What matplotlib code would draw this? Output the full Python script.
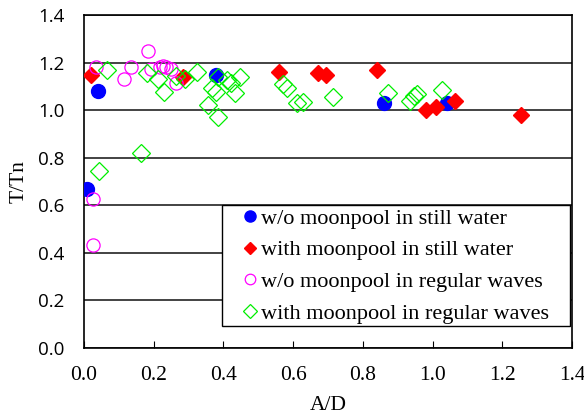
import matplotlib
matplotlib.use("Agg")
import matplotlib.pyplot as plt
from matplotlib.patches import Rectangle

# w/o moonpool, still water
still_wo_x = [0.01, 0.04, 0.38, 0.86, 1.04]
still_wo_y = [0.67, 1.08, 1.15, 1.03, 1.03]

# with moonpool, still water
still_with_x = [0.02, 0.285, 0.56, 0.67, 0.695, 0.84, 0.98, 1.01, 1.065, 1.255]
still_with_y = [1.15, 1.14, 1.16, 1.155, 1.148, 1.17, 1.00, 1.013, 1.04, 0.98]

# w/o moonpool, regular waves
waves_wo_x = [0.026, 0.026, 0.034, 0.115, 0.135, 0.183, 0.192, 0.217, 0.227,
              0.236, 0.25, 0.263]
waves_wo_y = [0.433, 0.627, 1.18, 1.13, 1.18, 1.248, 1.175, 1.18, 1.185,
              1.18, 1.175, 1.115]

# with moonpool, regular waves
waves_with_x = [0.042, 0.163, 0.065, 0.18, 0.211, 0.229, 0.265, 0.29, 0.323,
                0.357, 0.366, 0.38, 0.385, 0.385, 0.409, 0.422, 0.433, 0.448,
                0.572, 0.583, 0.61, 0.629, 0.713, 0.873, 0.935, 0.948, 0.955,
                1.026]
waves_with_y = [0.745, 0.821, 1.171, 1.157, 1.129, 1.077, 1.145, 1.13, 1.161,
                1.021, 1.092, 1.077, 1.14, 0.972, 1.127, 1.115, 1.071, 1.14,
                1.108, 1.092, 1.029, 1.035, 1.056, 1.071, 1.04, 1.06, 1.07,
                1.085]

serif = "Liberation Serif"

fig = plt.figure(figsize=(5.84, 4.18), dpi=100)
ax = fig.add_axes([0.1438, 0.1675, 0.8357, 0.7965])

ax.plot(still_wo_x, still_wo_y, "o", ms=10, color="#0000ff", mec="#0000ff",
        label="w/o moonpool in still water", zorder=3)
ax.plot(still_with_x, still_with_y, "D", ms=8, color="#ff0000", mec="#ff0000",
        label="with moonpool in still water", zorder=3)
ax.plot(waves_wo_x, waves_wo_y, "o", ms=9.5, mfc="none", mec="#ff00ff",
        mew=0.9, label="w/o moonpool in regular waves", zorder=3)
ax.plot(waves_with_x, waves_with_y, "D", ms=9, mfc="none", mec="#00ee00",
        mew=0.9, label="with moonpool in regular waves", zorder=3)

ax.set_xlim(0, 1.4)
ax.set_ylim(0, 1.4)
ax.set_xticks([0.0, 0.2, 0.4, 0.6, 0.8, 1.0, 1.2, 1.4])
ax.set_yticks([0.0, 0.2, 0.4, 0.6, 0.8, 1.0, 1.2, 1.4])
ax.set_xticklabels([f"{v:.1f}" for v in ax.get_xticks()], family=serif, fontsize=15.5)
ax.set_yticklabels([f"{v:.1f}" for v in ax.get_yticks()], family="Open Sans", fontsize=13.5)
ax.tick_params(axis="x", direction="in", length=5, width=0.8, pad=13)
ax.tick_params(axis="y", length=0, pad=14)

ax.yaxis.grid(True, color="#222222", lw=1.2)
ax.set_axisbelow(True)
for s in ax.spines.values():
    s.set_color("black")
    s.set_linewidth(1.2)

ax.set_xlabel("A/D", family=serif, fontsize=15.5, labelpad=8)
ax.set_ylabel("T/Tn", family=serif, fontsize=15.5, labelpad=7)

# legend box is drawn wider than the legend entries themselves
ax.add_patch(Rectangle((0.283, 0.066), 0.713, 0.363, transform=ax.transAxes,
                       facecolor="white", edgecolor="black", lw=1.0, zorder=4))
leg = ax.legend(loc="lower right", bbox_to_anchor=(0.967, 0.053),
                prop={"family": serif, "size": 16}, frameon=False,
                handlelength=0.7, handletextpad=0.15, borderpad=0.3,
                labelspacing=0.5, markerscale=0.8, borderaxespad=0)
leg.set_zorder(5)

fig.savefig("out.png", dpi=100)
